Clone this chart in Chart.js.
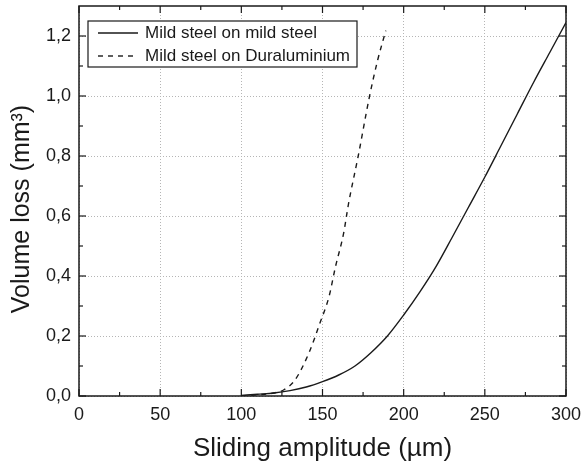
<!DOCTYPE html>
<html>
<head>
<meta charset="utf-8">
<script src="https://cdn.jsdelivr.net/npm/chart.js@4.4.1/dist/chart.umd.min.js"></script>
<style>
  html, body { margin: 0; padding: 0; background: #fff; }
  #wrap { width: 584px; height: 466px; position: relative; }
</style>
</head>
<body>
<div id="wrap"><canvas id="c" width="584" height="466"></canvas></div>
<script>
// ---- Data ----
const seriesLabels = ["Mild steel on mild steel", "Mild steel on Duraluminium"];
const xSolid = [100, 110, 120, 130, 140, 150, 160, 170, 180, 190, 200, 210, 220, 230, 240, 250, 260, 270, 280, 290, 300];
const ySolid = [0.002, 0.006, 0.01, 0.018, 0.03, 0.048, 0.07, 0.1, 0.145, 0.2, 0.27, 0.347, 0.432, 0.53, 0.63, 0.73, 0.835, 0.94, 1.045, 1.145, 1.245];
const xDashed = [100, 110, 120, 126, 133, 142, 148, 154, 158, 163, 166, 172, 179, 184, 189];
const yDashed = [0.0, 0.004, 0.01, 0.02, 0.053, 0.148, 0.237, 0.331, 0.431, 0.542, 0.64, 0.8, 1.0, 1.12, 1.218];
const xTicks = [0, 50, 100, 150, 200, 250, 300];
const yTicks = [0, 0.2, 0.4, 0.6, 0.8, 1.0, 1.2];
const xMinorTicks = [25, 75, 125, 175, 225, 275];
const yMinorTicks = [0.1, 0.3, 0.5, 0.7, 0.9, 1.1];
const xTitle = "Sliding amplitude (µm)";
const yTitle = "Volume loss (mm³)";

const FONT = "'Liberation Sans', Arial, Helvetica, sans-serif";
const INK = "#1a1a1a";

const toPts = (xs, ys) => xs.map((x, i) => ({ x: x, y: ys[i] }));

const frameTicksPlugin = {
  id: 'frameTicks',
  afterDatasetsDraw(chart) {
    const { ctx, chartArea: a, scales } = chart;
    const xs = scales.x, ys = scales.y;
    ctx.save();
    ctx.strokeStyle = INK;
    ctx.lineWidth = 1.5;
    ctx.setLineDash([]);
    ctx.strokeRect(a.left, a.top, a.right - a.left, a.bottom - a.top);
    ctx.lineWidth = 1.2;
    const tick = (x1, y1, x2, y2) => { ctx.beginPath(); ctx.moveTo(x1, y1); ctx.lineTo(x2, y2); ctx.stroke(); };
    const MAJ = 7, MIN = 4;
    xTicks.forEach(v => { const p = xs.getPixelForValue(v); tick(p, a.bottom, p, a.bottom - MAJ); tick(p, a.top, p, a.top + MAJ); });
    xMinorTicks.forEach(v => { const p = xs.getPixelForValue(v); tick(p, a.bottom, p, a.bottom - MIN); tick(p, a.top, p, a.top + MIN); });
    yTicks.forEach(v => { const p = ys.getPixelForValue(v); tick(a.left, p, a.left + MAJ, p); tick(a.right, p, a.right - MAJ, p); });
    yMinorTicks.forEach(v => { const p = ys.getPixelForValue(v); tick(a.left, p, a.left + MIN, p); tick(a.right, p, a.right - MIN, p); });
    ctx.restore();
  },
  afterDraw(chart) {
    const { ctx, chartArea: a } = chart;
    // y-axis title
    ctx.save();
    ctx.translate(22, (a.top + a.bottom) / 2 + 8);
    ctx.rotate(-Math.PI / 2);
    ctx.fillStyle = INK;
    ctx.font = "25px " + FONT;
    ctx.textAlign = 'center';
    ctx.textBaseline = 'middle';
    ctx.fillText(yTitle, 0, 0);
    ctx.restore();
    // legend inside the plot area
    const bx = a.left + 9, by = a.top + 15, bw = 269, bh = 46;
    ctx.save();
    ctx.fillStyle = '#fff';
    ctx.fillRect(bx, by, bw, bh);
    ctx.strokeStyle = INK;
    ctx.lineWidth = 1.2;
    ctx.setLineDash([]);
    ctx.strokeRect(bx, by, bw, bh);
    const rows = [by + 12, by + 35];
    chart.data.datasets.forEach((ds, i) => {
      const y = rows[i];
      ctx.strokeStyle = ds.borderColor;
      ctx.lineWidth = ds.borderWidth;
      ctx.setLineDash(ds.borderDash || []);
      ctx.beginPath(); ctx.moveTo(bx + 10, y); ctx.lineTo(bx + 50, y); ctx.stroke();
      ctx.setLineDash([]);
      ctx.fillStyle = INK;
      ctx.font = "17px " + FONT;
      ctx.textBaseline = 'middle';
      ctx.textAlign = 'left';
      ctx.fillText(ds.label, bx + 57, y);
    });
    ctx.restore();
  }
};

new Chart(document.getElementById('c'), {
  type: 'line',
  data: {
    datasets: [
      { label: seriesLabels[0], data: toPts(xSolid, ySolid), borderColor: INK, borderWidth: 1.4,
        pointRadius: 0, fill: false, cubicInterpolationMode: 'monotone' },
      { label: seriesLabels[1], data: toPts(xDashed, yDashed), borderColor: INK, borderWidth: 1.4,
        borderDash: [5, 5], pointRadius: 0, fill: false, cubicInterpolationMode: 'monotone' }
    ]
  },
  options: {
    responsive: false,
    animation: false,
    layout: { padding: { top: 6, right: 18, left: 0, bottom: 0 } },
    plugins: { legend: { display: false }, tooltip: { enabled: false } },
    scales: {
      x: {
        type: 'linear', min: 0, max: 300,
        afterBuildTicks: s => { s.ticks = xTicks.map(v => ({ value: v })); },
        afterFit: s => { s.height = 70; s.paddingLeft = 0; s.paddingRight = 0; },
        grid: { color: '#b5b5b5', lineWidth: 1, drawTicks: false },
        border: { display: false, dash: [1, 2] },
        ticks: { color: INK, font: { family: FONT, size: 18 }, padding: 8, maxRotation: 0,
                 callback: v => String(v) },
        title: { display: true, text: xTitle, color: INK, font: { family: FONT, size: 26 },
                 padding: { top: 0, bottom: 2 } }
      },
      y: {
        type: 'linear', min: 0, max: 1.3,
        afterBuildTicks: s => { s.ticks = yTicks.map(v => ({ value: v })); },
        afterFit: s => { s.width = 79; s.paddingTop = 0; s.paddingBottom = 0; },
        grid: { color: '#b5b5b5', lineWidth: 1, drawTicks: false },
        border: { display: false, dash: [1, 2] },
        ticks: { color: INK, font: { family: FONT, size: 18 }, padding: 8,
                 callback: v => v.toFixed(1).replace('.', ',') },
        title: { display: false, text: yTitle }
      }
    }
  },
  plugins: [frameTicksPlugin]
});
</script>
</body>
</html>
